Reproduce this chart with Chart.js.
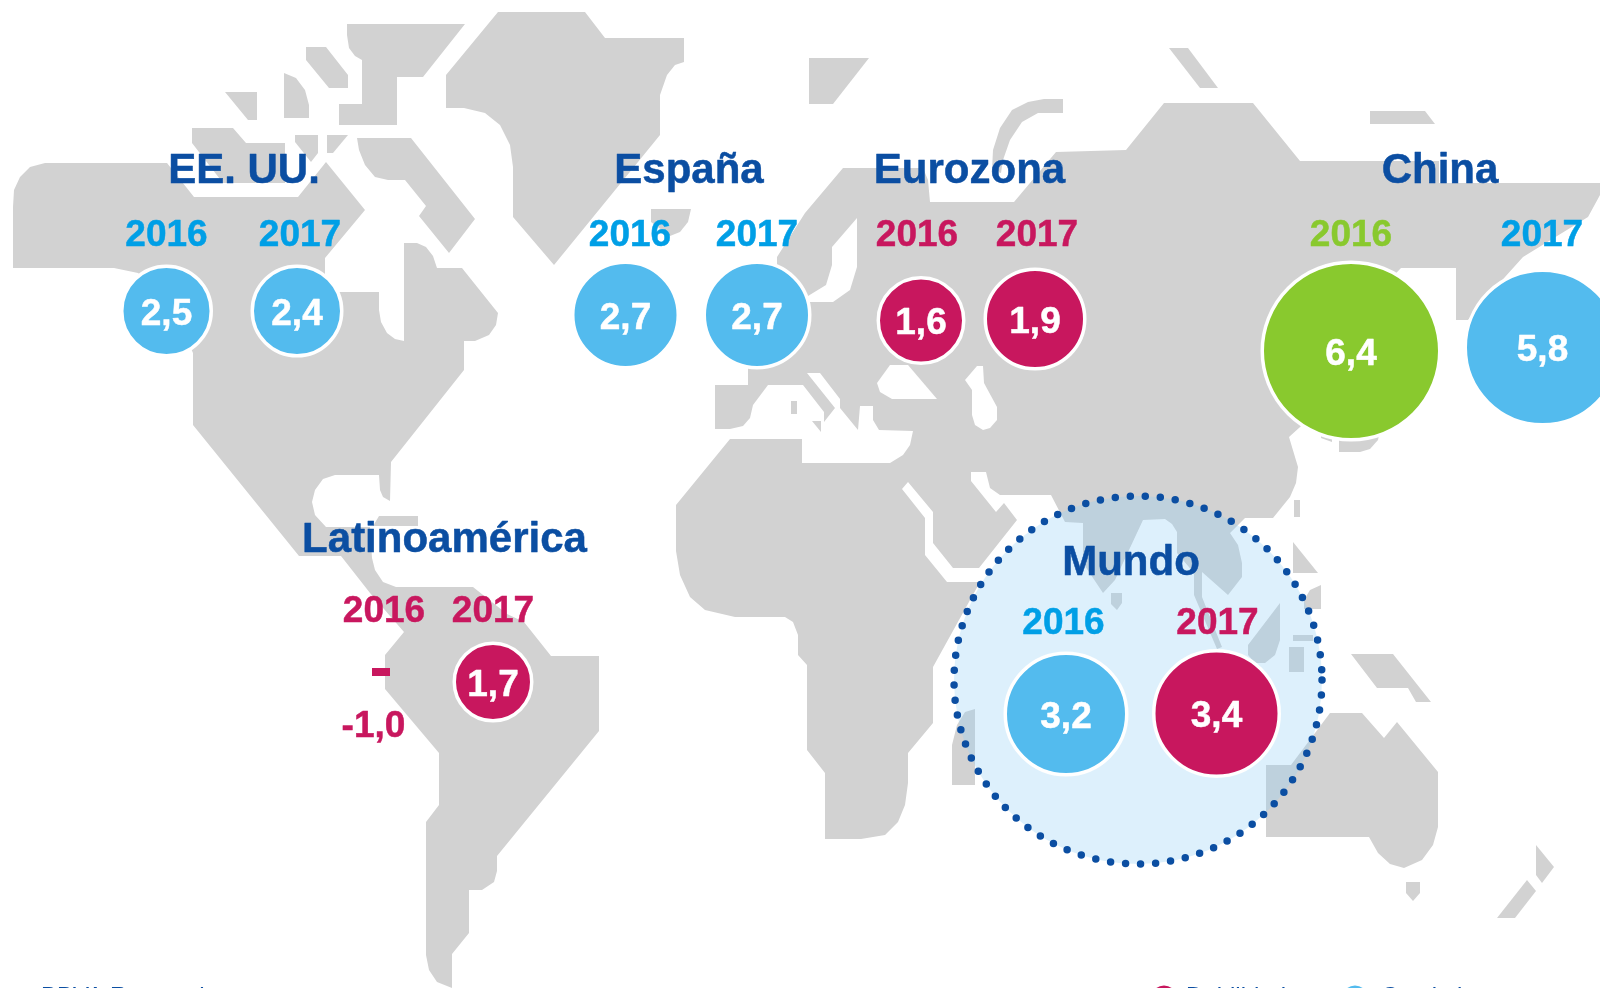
<!DOCTYPE html>
<html><head><meta charset="utf-8">
<style>html,body{margin:0;padding:0;background:#fff;overflow:hidden}canvas{display:block}</style>
<script src="https://cdn.jsdelivr.net/npm/chart.js@4"></script>
</head><body><canvas id="c" width="1600" height="988"></canvas>
<script>
const regionTitles = ["EE. UU.","España","Eurozona","China","Latinoamérica","Mundo"];
const years = ["2016","2017","2016","2017","2016","2017","2016","2017","2016","2017","2016","2017"];
const bubbleValues = [2.5,2.4,2.7,2.7,1.6,1.9,6.4,5.8,null,1.7,3.2,3.4];
const negativeLabel = "-1,0";
const bubbleX = [166.5,297,625.5,757,921,1035,1351,1542.5,null,493,1066,1216.5];
const bubbleY = [311,311,315,315,320.5,319,351,347.5,null,682,714,713.5];
const bubbleR = [43,43,51,51,41,48,87,75.5,null,37,59,61];
const classes = ["g","g","g","g","w","w","s","g","w","w","g","w"];
const classColors = {g:"#53bbee",w:"#c8175e",s:"#89c92e"};
const yearColors = {g:"#009fe6",w:"#c8175e",s:"#89c92e"};
const legendLabels = ["Debilidad","Crecimiento"];
const sourceLabel = "BBVA Research";

const land = [
 // North and Central America
 [[13,207],[14,190],[20,177],[30,167],[45,163],[167,163],[194,197],[298,197],[326,162],[365,210],[325,258],[325,292],[379,292],[379,310],[381,322],[387,333],[395,339],[404,341],[404,243],[417,243],[426,247],[433,256],[437,268],[462,268],[498,313],[496,325],[489,335],[475,341],[464,341],[464,370],[391,462],[390,501],[383,497],[380,490],[379,475],[335,475],[323,479],[315,490],[312,502],[315,515],[326,527],[370,527],[372,558],[375,570],[383,582],[396,587],[473,587],[507,614],[524,622],[551,656],[599,656],[599,731],[497,856],[497,871],[494,882],[482,890],[469,890],[469,933],[452,954],[452,988],[437,982],[429,970],[426,955],[426,822],[439,805],[439,753],[385,689],[385,655],[404,632],[370,593],[341,556],[299,556],[193,425],[193,353],[170,300],[138,273],[114,268],[13,268]],
 [[379,516],[418,516],[418,526],[373,526]],
 // Arctic islands
 [[347,24],[465,24],[423,77],[397,77],[397,125],[339,125],[339,104],[362,104],[362,60],[355,56],[349,48],[347,35]],
 [[306,47],[326,47],[348,75],[348,88],[329,88],[306,60]],
 [[284,73],[296,78],[305,90],[309,105],[309,118],[284,118]],
 [[225,92],[257,92],[257,120],[248,120]],
 [[192,128],[233,128],[246,143],[285,143],[285,183],[223,183],[192,143]],
 [[295,135],[318,135],[318,153],[311,162],[295,142]],
 [[327,135],[348,135],[333,153],[327,153]],
 [[357,138],[411,138],[475,219],[449,253],[419,216],[426,206],[405,180],[388,180],[375,177],[365,165],[359,150]],
 // Greenland and Iceland
 [[498,12],[585,12],[605,38],[684,38],[684,62],[675,65],[667,75],[660,95],[660,135],[554,265],[513,217],[513,167],[510,145],[500,125],[485,113],[464,108],[446,108],[446,75]],
 [[651,209],[691,209],[688,222],[680,232],[670,236],[651,222]],
 // North Atlantic and Russian Arctic islands
 [[809,58],[869,58],[833,104],[809,104]],
 [[1169,48],[1188,48],[1218,88],[1200,88]],
 [[1370,111],[1425,111],[1435,124],[1370,124]],
 [[1063,99],[1063,113],[1038,113],[1022,122],[1010,140],[1003,160],[1001,173],[992,170],[993,150],[1000,128],[1012,110],[1028,102],[1044,99]],
 // Eurasia and Africa
 [[777,257],[805,213],[843,168],[923,168],[928,180],[930,202],[1014,202],[1056,152],[1126,150],[1164,103],[1253,103],[1300,161],[1439,161],[1439,183],[1600,183],[1600,195],[1588,217],[1523,257],[1505,277],[1468,320],[1456,320],[1456,268],[1401,268],[1380,290],[1330,400],[1289,437],[1298,467],[1296,483],[1290,497],[1273,518],[1245,518],[1230,533],[1238,545],[1242,563],[1242,577],[1228,595],[1202,572],[1202,597],[1222,647],[1217,649],[1194,595],[1194,573],[1177,553],[1177,532],[1172,524],[1165,519],[1143,520],[1115,580],[1103,593],[1083,563],[1083,523],[1065,522],[1051,495],[1000,495],[990,488],[986,472],[971,472],[971,481],[996,512],[1004,503],[1017,520],[979,568],[953,568],[933,543],[933,512],[908,482],[902,489],[925,518],[925,555],[947,582],[980,582],[933,667],[933,723],[908,753],[908,783],[905,805],[898,822],[885,835],[861,839],[825,839],[825,773],[807,750],[807,665],[798,655],[798,635],[793,622],[785,617],[735,617],[705,610],[690,597],[680,575],[676,551],[676,505],[730,439],[802,439],[802,463],[890,463],[903,455],[910,445],[913,431],[879,430],[873,420],[873,406],[860,406],[858,430],[840,408],[840,399],[820,373],[807,373],[835,408],[824,422],[824,412],[803,385],[768,385],[753,405],[750,418],[743,426],[730,429],[715,429],[715,385],[748,385],[748,365],[777,290]],
 // Sri Lanka, Japan, South-East Asia, Oceania
 [[1111,593],[1122,593],[1122,603],[1117,610],[1111,604]],
 [[1294,500],[1300,500],[1300,517],[1294,517]],
 [[1293,542],[1318,573],[1293,573]],
 [[1321,585],[1310,590],[1304,600],[1304,609],[1321,609]],
 [[1280,603],[1280,640],[1275,655],[1265,663],[1255,663],[1248,655],[1248,645]],
 [[1293,635],[1313,635],[1313,641],[1293,641]],
 [[1289,647],[1304,647],[1304,672],[1289,672]],
 [[1351,654],[1393,654],[1431,702],[1416,702],[1408,688],[1377,688]],
 [[1266,765],[1291,765],[1330,713],[1362,713],[1384,738],[1397,722],[1438,772],[1438,827],[1433,845],[1422,860],[1404,868],[1390,864],[1378,853],[1369,837],[1266,837]],
 [[1406,882],[1420,882],[1420,893],[1413,901],[1406,893]],
 [[1536,845],[1554,867],[1542,883],[1536,875]],
 [[1527,880],[1536,891],[1515,918],[1497,918]],
 [[952,745],[957,725],[965,712],[975,709],[975,785],[952,785]],
 [[1339,430],[1380,430],[1378,440],[1370,449],[1360,452],[1339,452]],
 [[1321,430],[1332,430],[1332,442],[1321,438]]
];
const seas = [
 [[857,218],[832,247],[832,265],[826,285],[808,296],[790,296],[790,302],[833,302],[850,290],[857,267]],
 [[890,365],[908,365],[937,399],[892,399],[880,392],[877,383]],
 [[977,366],[983,366],[984,383],[997,407],[997,420],[990,428],[983,430],[975,425],[972,415],[972,390],[965,380]]
];
const seaIslands = [
 [[791,401],[797,401],[797,414],[791,414]],
 [[812,421],[821,421],[821,432]]
];

function polyDataset(poly,color,order){
  return {type:'line',data:poly.map(p=>({x:p[0],y:p[1]})),borderWidth:0,pointRadius:0,
    tension:0,fill:'shape',backgroundColor:color,borderColor:color,order:order};
}
const datasets=[];
land.forEach(p=>datasets.push(polyDataset(p,'#d2d2d2',100)));
seas.forEach(p=>datasets.push(polyDataset(p,'#ffffff',90)));
seaIslands.forEach(p=>datasets.push(polyDataset(p,'#d2d2d2',85)));
datasets.push({type:'bubble',label:'worldHalo',data:[{x:1138,y:680,r:184}],
  backgroundColor:'rgba(145,205,245,0.31)',borderWidth:0,borderColor:'transparent',order:60,hoverRadius:0});
datasets.push({type:'bubble',label:'worldRing',data:[{x:1138,y:680,r:184}],
  backgroundColor:'transparent',borderColor:'#0b4ea2',borderWidth:7.5,order:55,hoverRadius:0});
const idx=bubbleValues.map((v,i)=>i).filter(i=>bubbleValues[i]!==null);
datasets.push({type:'bubble',label:'values',
  data:idx.map(i=>({x:bubbleX[i],y:bubbleY[i],r:bubbleR[i]+1.75,v:bubbleValues[i]})),
  backgroundColor:idx.map(i=>classColors[classes[i]]),
  borderColor:'#ffffff',borderWidth:3.5,order:10,hoverRadius:0});
datasets.push({type:'line',label:'negBar',data:[{x:372,y:672},{x:390,y:672}],
  borderColor:'#c8175e',borderWidth:8,pointRadius:0,order:9,fill:false});
datasets.push({type:'bubble',label:'legend',data:[{x:1164,y:998.5,r:13},{x:1355,y:998.5,r:13}],
  backgroundColor:['#c8175e','#53bbee'],borderWidth:0,order:8,hoverRadius:0});

const textPlugin={id:'texts',
 beforeDatasetDraw(chart,args){
   if(chart.data.datasets[args.index].label==='worldRing'){
     const c=chart.ctx;c.save();c.setLineDash([0,15.07]);c.lineCap='round';
   }
 },
 afterDatasetDraw(chart,args){
   if(chart.data.datasets[args.index].label==='worldRing'){chart.ctx.restore();}
 },
 afterDatasetsDraw(chart){
   const c=chart.ctx,X=chart.scales.x,Y=chart.scales.y;
   const put=(t,x,y,font,col,al,sw)=>{c.font=font;c.fillStyle=col;c.textAlign=al||'center';c.textBaseline='alphabetic';
     const px=X.getPixelForValue(x),py=Y.getPixelForValue(y);
     c.fillText(t,px,py);
     if(sw){c.strokeStyle=col;c.lineWidth=sw;c.lineJoin='round';c.strokeText(t,px,py);}};
   const F='"Liberation Sans",Arial,sans-serif';
   const titleX=[244,689,969.5,1440,444.5,1131],titleY=[183,183,183,183,551.5,575];
   regionTitles.forEach((t,i)=>put(t,titleX[i],titleY[i],'bold 42px '+F,'#0b4ea2',null,0.5));
   const yx=[166.5,300,630,757,917,1037,1351,1542,384,493,1063.5,1217.5];
   const yy=[246,246,246,246,246,246,246,246,621.5,621.5,633.5,633.5];
   years.forEach((t,i)=>put(t,yx[i],yy[i],'bold 37px '+F,yearColors[classes[i]],null,0.5));
   bubbleValues.forEach((v,i)=>{ if(v===null)return;
     put(v.toFixed(1).replace('.',','),bubbleX[i],bubbleY[i]+13.5,'bold 37px '+F,'#ffffff',null,0.5);});
   put(negativeLabel,373.5,736.5,'bold 37px '+F,'#c8175e',null,0.5);
   put(sourceLabel,41,1003.5,'24px '+F,'#0b4ea2','left');
   put(legendLabels[0],1186,1003.5,'24px '+F,'#0b4ea2','left');
   put(legendLabels[1],1381,1003.5,'24px '+F,'#0b4ea2','left');
 }
};

new Chart(document.getElementById('c'),{
 data:{datasets},
 plugins:[textPlugin],
 options:{responsive:false,animation:false,events:[],
  layout:{padding:0,autoPadding:false},
  plugins:{legend:{display:false},tooltip:{enabled:false},title:{display:false}},
  scales:{
   x:{type:'linear',min:0,max:1600,display:false},
   y:{type:'linear',min:0,max:988,reverse:true,display:false}
  }}
});
</script></body></html>
